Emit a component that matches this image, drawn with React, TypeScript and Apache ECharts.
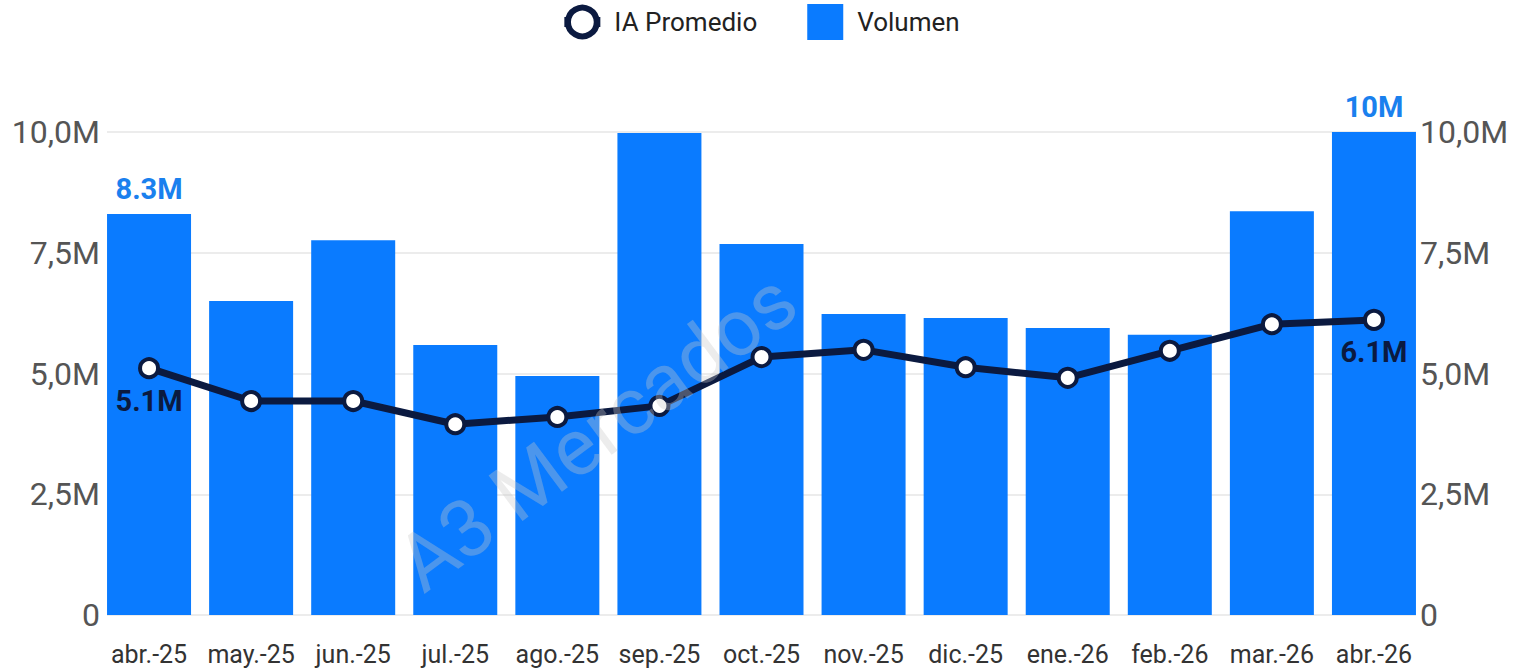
import React, { useEffect, useRef } from "react";
import * as echarts from "echarts";

const categories = ["abr.-25", "may.-25", "jun.-25", "jul.-25", "ago.-25", "sep.-25", "oct.-25", "nov.-25", "dic.-25", "ene.-26", "feb.-26", "mar.-26", "abr.-26"];
const volumen = [8.3e6, 6.5e6, 7.76e6, 5.59e6, 4.95e6, 9.98e6, 7.68e6, 6.23e6, 6.15e6, 5.94e6, 5.8e6, 8.36e6, 10.0e6];
const iaPromedio = [5.11e6, 4.43e6, 4.43e6, 3.95e6, 4.1e6, 4.33e6, 5.34e6, 5.49e6, 5.13e6, 4.91e6, 5.47e6, 6.02e6, 6.11e6];
const yTicks = { min: 0, max: 10e6, interval: 2.5e6 };

const FONT = "Roboto, 'Liberation Sans', Arial, sans-serif";
const BLUE = "#0a7bff";
const LABEL_BLUE = "#1a80ee";
const NAVY = "#0b1a40";

const fmtAxis = (v: number) => (v === 0 ? "0" : (v / 1e6).toFixed(1).replace(".", ",") + "M");
const fmtShort = (v: number) => Number((v / 1e6).toFixed(1)) + "M";

export default function App() {
  const ref = useRef<HTMLDivElement>(null);
  useEffect(() => {
    if (!ref.current) return;
    const chart = echarts.init(ref.current, null, { renderer: "svg" });
    const last = categories.length - 1;
    chart.setOption({
      animation: false,
      backgroundColor: "#ffffff",
      textStyle: { fontFamily: FONT },
      legend: {
        top: 0,
        left: "center",
        padding: [4, 5, 5, 5],
        itemWidth: 36,
        itemHeight: 36,
        itemGap: 50,
        textStyle: { fontSize: 26, color: "#222", fontFamily: FONT, padding: [0, 0, 0, 9] },
        data: [
          {
            name: "IA Promedio",
            lineStyle: { width: 10, color: NAVY },
            itemStyle: { color: "#ffffff", borderColor: NAVY, borderWidth: 6 },
          },
          { name: "Volumen", icon: "rect" },
        ],
      },
      grid: [
        { left: 107, width: 1309, top: 132, height: 483 },
        { left: 98, width: 1327, top: 132, height: 483 },
      ],
      xAxis: [
        { type: "category", gridIndex: 0, show: false, data: categories },
        {
          type: "category",
          gridIndex: 1,
          data: categories,
          axisLine: { show: false },
          axisTick: { show: false },
          axisLabel: { interval: 0, fontSize: 25, color: "#333", margin: 27, fontFamily: FONT },
        },
      ],
      yAxis: [
        {
          type: "value",
          gridIndex: 0,
          position: "left",
          ...yTicks,
          axisLine: { show: false },
          axisTick: { show: false },
          splitLine: { lineStyle: { color: "#e6e6e6", width: 1.5 } },
          axisLabel: { formatter: fmtAxis, fontSize: 32, color: "#555", margin: 7, fontFamily: FONT },
        },
        {
          type: "value",
          gridIndex: 0,
          position: "right",
          ...yTicks,
          axisLine: { show: false },
          axisTick: { show: false },
          splitLine: { show: false },
          axisLabel: { formatter: fmtAxis, fontSize: 32, color: "#555", margin: 4, fontFamily: FONT },
        },
        { type: "value", gridIndex: 1, ...yTicks, show: false, splitLine: { show: false } },
      ],
      series: [
        {
          name: "Volumen",
          type: "bar",
          xAxisIndex: 1,
          yAxisIndex: 2,
          barWidth: 84,
          itemStyle: { color: BLUE },
          data: volumen.map((v, i) => ({
            value: v,
            label: {
              show: i === 0 || i === last,
              position: "top",
              distance: 11,
              formatter: (p: any) => fmtShort(p.value),
              fontSize: 29,
              fontWeight: "bold",
              color: LABEL_BLUE,
              fontFamily: FONT,
            },
          })),
          z: 2,
        },
        {
          name: "IA Promedio",
          type: "line",
          xAxisIndex: 1,
          yAxisIndex: 2,
          symbol: "circle",
          symbolSize: 18,
          lineStyle: { color: NAVY, width: 7 },
          itemStyle: { color: "#ffffff", borderColor: NAVY, borderWidth: 4 },
          data: iaPromedio.map((v, i) => ({
            value: v,
            label: {
              show: i === 0 || i === last,
              position: "bottom",
              distance: 7,
              formatter: (p: any) => fmtShort(p.value),
              fontSize: 29,
              fontWeight: "bold",
              color: NAVY,
              fontFamily: FONT,
            },
          })),
          z: 5,
        },
      ],
      graphic: [
        {
          type: "text",
          x: 597,
          y: 432,
          rotation: 0.64,
          z: 100,
          style: {
            text: "A3 Mercados",
            fontSize: 80,
            fontFamily: FONT,
            fill: "rgba(200,200,200,0.35)",
            align: "center",
            verticalAlign: "middle",
          },
        },
      ],
    });
    return () => chart.dispose();
  }, []);
  return <div ref={ref} style={{ position: "fixed", left: 0, top: 0, width: 1519, height: 672 }} />;
}
